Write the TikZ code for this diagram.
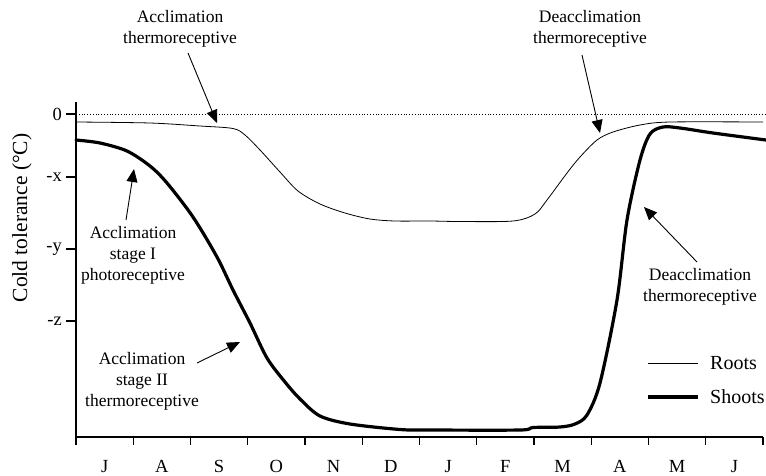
\documentclass[tikz,border=0pt]{standalone}
\usepackage{fontspec}
\setmainfont{Liberation Serif}
\usetikzlibrary{arrows.meta}
\begin{document}
\begin{tikzpicture}[x=1pt,y=-1pt,
  lbl/.style={font=\fontsize{17.5}{21}\selectfont, align=center, inner sep=0pt},
  leg/.style={font=\fontsize{20}{22}\selectfont, inner sep=0pt},
  tick/.style={font=\fontsize{18.5}{21}\selectfont, inner sep=0pt},
  month/.style={font=\fontsize{18.5}{21}\selectfont, inner sep=0pt, anchor=base},
  ptr/.style={line width=0.9pt, -{Triangle[length=13pt,width=11pt]}},
  axis/.style={line width=1.1pt},
  roots/.style={line width=0.8pt},
  shoots/.style={line width=3.2pt, line join=round, line cap=round}]
\useasboundingbox (0,0) rectangle (766,475);
% axes
\coordinate (o) at (76,437);
\coordinate (ytop) at (76,102);
\coordinate (xend) at (763,437);
\draw[axis] (ytop) -- (o) -- (xend);
% y ticks
\foreach \yy/\t/\n in {114/0/y0,177/-x/yx,249/-y/yy,321/-z/yz}{
  \draw[axis] (66,\yy) -- (76,\yy);
  \node[tick, anchor=east] (\n) at (62,\yy) {\t};
}
% x ticks and months
\foreach \i in {0,...,12}{
  \draw[axis] ({76+57.25*\i},437) -- ({76+57.25*\i},445);
}
\foreach \m [count=\i from 0] in {J,A,S,O,N,D,J,F,M,A,M,J}{
  \node[month] (m\i) at ({76+57.25*\i+28.6},472) {\m};
}
% y label
\node[font=\fontsize{21.5}{24}\selectfont, rotate=90, inner sep=0pt] (ylab) at (22,218) {Cold tolerance (°C)};
% zero line
\draw[dotted, line width=0.8pt] (76,114) -- (766,114);
% roots
\draw[roots] plot[smooth, tension=0.5] coordinates {
 (76,122) (150,123) (200,126) (233,128.5) (245,135) (260,150) (280,172) (298,191)
 (320,204) (345,213) (370,219) (395,221) (430,221) (460,221.5) (513,221) (535,214)
 (547,200) (567,173) (580,157) (597,140) (613,132) (640,125) (670,122) (763,122)};
% shoots
\draw[shoots] plot[smooth, tension=0.5] coordinates {
 (76,140) (100,143) (127,151) (150,166) (167,183) (193,217) (217,257) (233,290)
 (250,323) (267,358) (285,382) (300,399) (320,416) (350,424) (400,429.5) (430,430)
 (520,430) (533,427.5) (560,427) (575,424) (587,415) (600,383) (617,300) (627,220)
 (640,160) (650,134) (663,127) (680,128) (713,133) (766,140)};
% legend
\coordinate (lr1) at (648,363); \coordinate (lr2) at (698,363);
\coordinate (ls1) at (648,397); \coordinate (ls2) at (698,397);
\draw[roots] (lr1) -- (lr2);
\draw[shoots, line cap=butt] (ls1) -- (ls2);
\node[leg, anchor=west] (lroots) at (710,363) {Roots};
\node[leg, anchor=west] (lshoots) at (710,397) {Shoots};
% annotations
\node[lbl] (a1) at (180,29) {Acclimation\\thermoreceptive};
\coordinate (a1t) at (217,123);
\draw[ptr] (188,53) -- (a1t);
\node[lbl] (a2) at (590,29) {Deacclimation\\thermoreceptive};
\coordinate (a2t) at (600,133);
\draw[ptr] (582,55) -- (a2t);
\node[lbl] (a3) at (700,287) {Deacclimation\\thermoreceptive};
\coordinate (a3t) at (644,207);
\draw[ptr] (697,262) -- (a3t);
\node[lbl] (a4) at (133,255) {Acclimation\\stage I\\photoreceptive};
\coordinate (a4t) at (134,169);
\draw[ptr] (126,220) -- (a4t);
\node[lbl] (a5) at (142,381) {Acclimation\\stage II\\thermoreceptive};
\coordinate (a5t) at (240,342);
\draw[ptr] (197,363) -- (a5t);
\end{tikzpicture}
\end{document}
